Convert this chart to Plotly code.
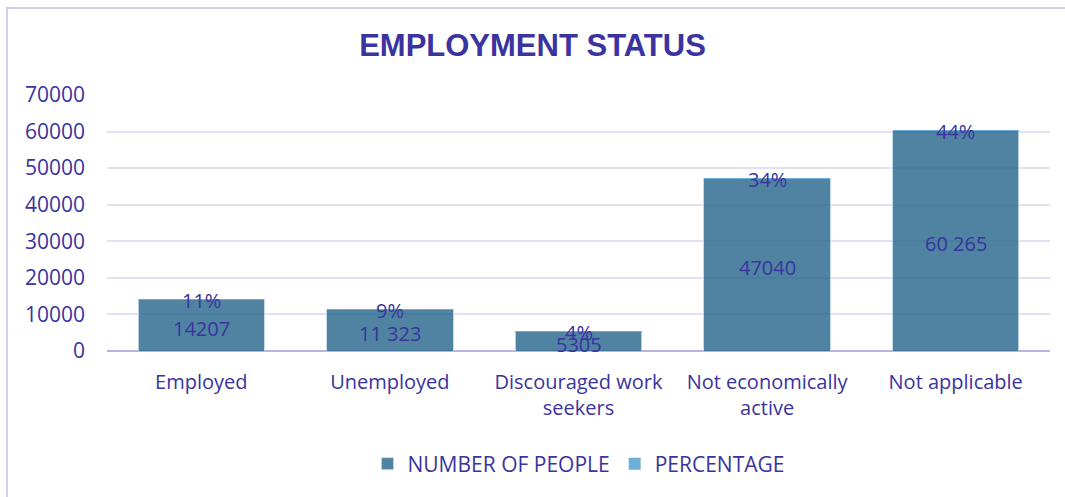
import plotly.graph_objects as go

categories = ["Employed", "Unemployed", "Discouraged work<br>seekers",
              "Not economically<br>active", "Not applicable"]
people = [14207, 11323, 5305, 47040, 60265]
people_labels = ["14207", "11 323", "5305", "47040", "60 265"]
percentage = [11, 9, 4, 34, 44]
percentage_labels = ["11%", "9%", "4%", "34%", "44%"]
y_ticks = [0, 10000, 20000, 30000, 40000, 50000, 60000, 70000]

INK = "#3A33A0"
FONT = "Open Sans"

fig = go.Figure()

fig.add_trace(go.Bar(
    x=categories, y=people, name="NUMBER OF PEOPLE",
    marker=dict(color="rgba(40,104,140,0.82)",
                line=dict(color="rgba(190,215,230,0.9)", width=1)),
    hoverinfo="skip",
))
fig.add_trace(go.Bar(
    x=categories, y=percentage, name="PERCENTAGE",
    marker=dict(color="#6FAEDB", line=dict(width=0)),
    hoverinfo="skip",
))

annotations = []
# value labels centred in each bar
for cat, v, lab in zip(categories, people, people_labels):
    annotations.append(dict(x=cat, y=v / 2, text=lab, showarrow=False,
                            xanchor="center", yanchor="middle", yshift=-3,
                            font=dict(family=FONT, size=20, color=INK)))
# percentage labels at the top of each stack
for cat, v, p, lab in zip(categories, people, percentage, percentage_labels):
    annotations.append(dict(x=cat, y=v + p, text=lab, showarrow=False,
                            xanchor="center", yanchor="middle", yshift=-1,
                            font=dict(family=FONT, size=20, color=INK)))

plot_l, plot_r, plot_t, plot_b = 107, 15, 95, 146
W, H = 1065, 497
pw = W - plot_l - plot_r
ph = H - plot_t - plot_b

def px_x(px):
    return (px - plot_l) / pw

def px_y(py):
    return (H - plot_b - py) / ph

fig.update_layout(
    width=W, height=H,
    margin=dict(l=plot_l, r=plot_r, t=plot_t, b=plot_b, autoexpand=False),
    barmode="stack", bargap=0.33,
    paper_bgcolor="white", plot_bgcolor="white",
    font=dict(family=FONT, size=20, color=INK),
    title=dict(text="<b>EMPLOYMENT STATUS</b>", x=0.5, xanchor="center",
               y=1 - 45 / H, yanchor="middle",
               font=dict(family="Liberation Sans", size=31, color=INK)),
    xaxis=dict(showgrid=False, showline=False, ticks="",
               ticklabelstandoff=17,
               tickfont=dict(family=FONT, size=20, color=INK),
               fixedrange=True),
    yaxis=dict(range=[0, 70000], tickvals=y_ticks,
               ticktext=[str(v) for v in y_ticks],
               showgrid=True, gridcolor="#E3E0F5", gridwidth=2,
               zeroline=True, zerolinecolor="#B9B2E3", zerolinewidth=2,
               showline=False, ticks="", ticklabelstandoff=21,
               tickfont=dict(family=FONT, size=21, color=INK),
               fixedrange=True),
    legend=dict(orientation="h", x=0.5, xanchor="center",
                y=px_y(464), yanchor="middle",
                font=dict(family=FONT, size=21, color=INK),
                itemwidth=30, traceorder="normal"),
    showlegend=True,
    annotations=annotations,
    shapes=[dict(type="rect", xref="paper", yref="paper",
                 x0=px_x(7), x1=px_x(1075), y0=px_y(520), y1=px_y(8),
                 line=dict(color="#D2CEF0", width=2), layer="below")],
)

fig.write_html("out.html")
